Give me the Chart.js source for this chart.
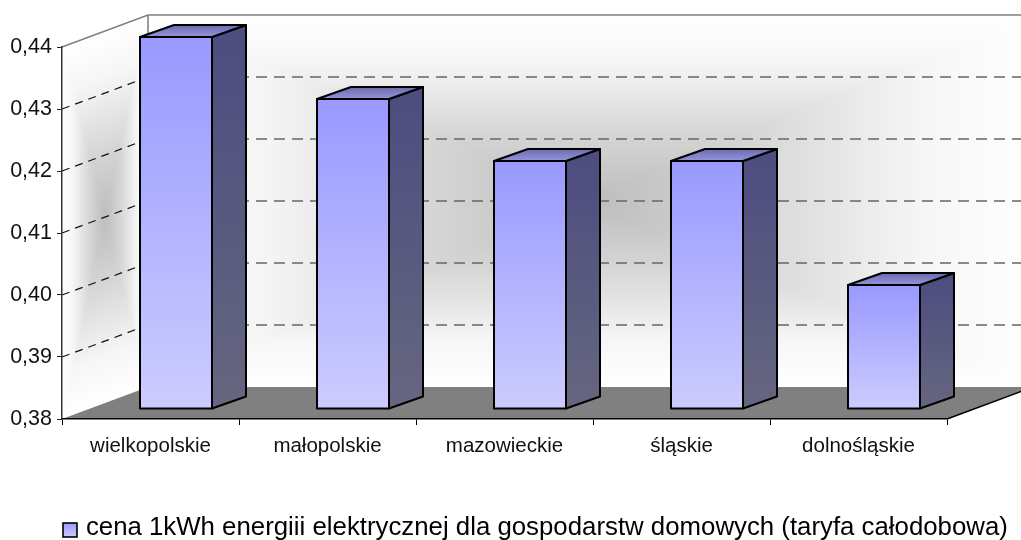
<!DOCTYPE html>
<html><head><meta charset="utf-8">
<style>html,body{margin:0;padding:0;background:#fff}canvas{display:block}</style>
<script src="https://cdn.jsdelivr.net/npm/chart.js@4"></script>
</head><body><canvas id="c" width="1021" height="540"></canvas>
<script>
const categories = ['wielkopolskie','małopolskie','mazowieckie','śląskie','dolnośląskie'];
const seriesName = 'cena 1kWh energiii elektrycznej dla gospodarstw domowych (taryfa całodobowa)';
const seriesValues = [0.44,0.43,0.42,0.42,0.40];
const axisMin = 0.38, axisMax = 0.44, axisStep = 0.01;
const FONT = '"Liberation Sans", Arial, sans-serif';
const WALL = {dx:86, dy:-32};      // perspective offset of the back wall
const SHIFT = {dx:25.5, dy:-10};   // bars stand inside the floor
const DEPTH = {dx:34, dy:-12};     // bar depth

function vgrad(ctx,y0,y1,a,b){const g=ctx.createLinearGradient(0,y0,0,y1);g.addColorStop(0,a);g.addColorStop(1,b);return g;}

// rectangular "from centre" gradient in a w*h box at the origin
function rectGlow(ctx,w,h){
  const cx=w/2,cy=h/2;
  const stops=g=>{g.addColorStop(0,'#bdbdbd');g.addColorStop(0.35,'#d5d5d5');g.addColorStop(0.75,'#f6f6f6');g.addColorStop(1,'#ffffff');return g;};
  const tris=[
    [[0,0],[w,0],[cx,cy],ctx.createLinearGradient(0,cy,0,0)],
    [[w,0],[w,h],[cx,cy],ctx.createLinearGradient(cx,0,w,0)],
    [[w,h],[0,h],[cx,cy],ctx.createLinearGradient(0,cy,0,h)],
    [[0,h],[0,0],[cx,cy],ctx.createLinearGradient(cx,0,0,0)]
  ];
  tris.forEach(t=>{ctx.beginPath();ctx.moveTo(...t[0]);ctx.lineTo(...t[1]);ctx.lineTo(...t[2]);ctx.closePath();ctx.fillStyle=stops(t[3]);ctx.fill();ctx.strokeStyle=ctx.fillStyle;ctx.lineWidth=0.5;ctx.stroke();});
}

const scene = {
  id:'scene',
  beforeDraw(chart){
    const {ctx,scales:{x,y}}=chart;
    const L=x.left,R=x.right,T=y.top,B=y.bottom,dx=WALL.dx,dy=WALL.dy;
    ctx.save();
    // back wall
    ctx.save();ctx.translate(L+dx,T+dy);rectGlow(ctx,R-L,B-T);ctx.restore();
    // side wall
    ctx.save();ctx.transform(1,dy/dx,0,1,L,T);rectGlow(ctx,dx,B-T);ctx.restore();
    // floor
    ctx.beginPath();ctx.moveTo(L,B);ctx.lineTo(L+dx,B+dy);ctx.lineTo(R+dx,B+dy);ctx.lineTo(R,B);ctx.closePath();
    ctx.fillStyle='#808080';ctx.fill();
    // grid
    y.ticks.forEach(t=>{
      if(t.value<=y.min+1e-9||t.value>=y.max-1e-9)return;
      const py=y.getPixelForValue(t.value);
      ctx.beginPath();ctx.setLineDash([8,6]);ctx.lineWidth=1.2;ctx.strokeStyle='#111';
      ctx.moveTo(L,py);ctx.lineTo(L+dx,py+dy);ctx.stroke();
      ctx.beginPath();ctx.setLineDash([11,7]);ctx.lineWidth=1.4;ctx.strokeStyle='#666';
      ctx.moveTo(L+dx,py+dy);ctx.lineTo(R+dx,py+dy);ctx.stroke();
    });
    ctx.setLineDash([]);
    // wall outlines
    ctx.strokeStyle='#808080';ctx.lineWidth=1.6;
    ctx.beginPath();ctx.moveTo(L,T);ctx.lineTo(L+dx,T+dy);ctx.lineTo(R+dx,T+dy);ctx.stroke();
    ctx.beginPath();ctx.moveTo(L+dx,T+dy);ctx.lineTo(L+dx,B+dy);ctx.stroke();
    // floor front-right edge
    ctx.strokeStyle='#000';ctx.lineWidth=1.5;ctx.beginPath();ctx.moveTo(R,B);ctx.lineTo(R+dx,B+dy);ctx.stroke();
    ctx.restore();
  },
  beforeDatasetDraw(chart){chart.ctx.save();chart.ctx.translate(SHIFT.dx,SHIFT.dy);},
  afterDatasetDraw(chart){
    const ctx=chart.ctx;
    const dx=DEPTH.dx,dy=DEPTH.dy;
    chart.getDatasetMeta(0).data.forEach(el=>{
      const l=el.x-el.width/2,r=el.x+el.width/2,t=el.y,b=el.base;
      ctx.lineWidth=2;ctx.strokeStyle='#000';ctx.lineJoin='round';
      ctx.beginPath();ctx.moveTo(r,t);ctx.lineTo(r+dx,t+dy);ctx.lineTo(r+dx,b+dy);ctx.lineTo(r,b);ctx.closePath();
      ctx.fillStyle=vgrad(ctx,t+dy,b,'#4c4c80','#666680');ctx.fill();ctx.stroke();
      ctx.beginPath();ctx.moveTo(l,t);ctx.lineTo(l+dx,t+dy);ctx.lineTo(r+dx,t+dy);ctx.lineTo(r,t);ctx.closePath();
      ctx.fillStyle=vgrad(ctx,t+dy,t,'#6c6cac','#9494dc');ctx.fill();ctx.stroke();
      ctx.beginPath();ctx.rect(l,t,r-l,b-t);ctx.stroke();
    });
    ctx.restore();
  },
  afterDraw(chart){
    // legend swatch, drawn in the reserved legend slot
    const ctx=chart.ctx,h=chart.legend.legendHitBoxes[0];
    const bx=h.left,by=chart.legend.top+8;
    ctx.save();
    ctx.fillStyle=vgrad(ctx,by,by+14,'#9999ff','#ccccff');ctx.fillRect(bx,by,14,14);
    ctx.lineWidth=1.6;ctx.strokeStyle='#000';ctx.strokeRect(bx,by,14,14);
    ctx.restore();
  }
};
const legendMove = {
  id:'legendMove',
  afterLayout(chart){
    const lg=chart.legend;const h=lg.height;
    lg.top=515;lg.bottom=lg.top+h;lg.left=63;lg.right=1021;
    lg.options.labels.padding=0;
    lg.adjustHitBoxes();
  }
};

const chart = new Chart(document.getElementById('c'),{
  type:'bar',
  data:{labels:categories,datasets:[{
    label:seriesName,data:seriesValues,base:axisMin,clip:false,
    categoryPercentage:1,barPercentage:72/177,
    borderColor:'#000',borderWidth:0,
    backgroundColor(c){
      const ch=c.chart,ys=ch.scales.y;
      if(!ys||c.parsed===undefined||c.dataIndex===undefined)return '#b3b3ff';
      return vgrad(ch.ctx,ys.getPixelForValue(c.parsed.y),ys.getPixelForValue(ys.min),'#9999ff','#ccccff');
    }
  }]},
  plugins:[scene,legendMove],
  options:{
    responsive:false,animation:false,
    layout:{padding:{left:0,right:74,top:47,bottom:0}},
    scales:{
      x:{
        afterFit(s){s.height=121-s.chart.legend.height;},
        grid:{display:true,drawOnChartArea:false,drawTicks:true,tickLength:6,color:'#000',offset:true},
        border:{display:true,color:'#000',width:1.5},
        ticks:{color:'#111',font:{family:FONT,size:20.5},padding:9,maxRotation:0,autoSkip:false}
      },
      y:{
        min:axisMin,max:axisMax,
        afterFit(s){s.width=62;},
        grid:{display:true,drawOnChartArea:false,drawTicks:true,tickLength:5,color:'#222'},
        border:{display:true,color:'#333',width:1.5},
        ticks:{stepSize:axisStep,color:'#111',font:{family:FONT,size:21.5},padding:5,
          callback:v=>v.toFixed(2).replace('.',',')}
      }
    },
    plugins:{
      tooltip:{enabled:false},
      legend:{display:true,position:'bottom',align:'start',
        labels:{color:'#111',font:{family:FONT,size:25.8},boxWidth:10,boxHeight:14,padding:3,
          generateLabels(ch){
            return [{text:seriesName,fillStyle:'rgba(0,0,0,0)',strokeStyle:'rgba(0,0,0,0)',lineWidth:0,datasetIndex:0,hidden:false}];
          }}
      }
    }
  }
});
</script></body></html>
